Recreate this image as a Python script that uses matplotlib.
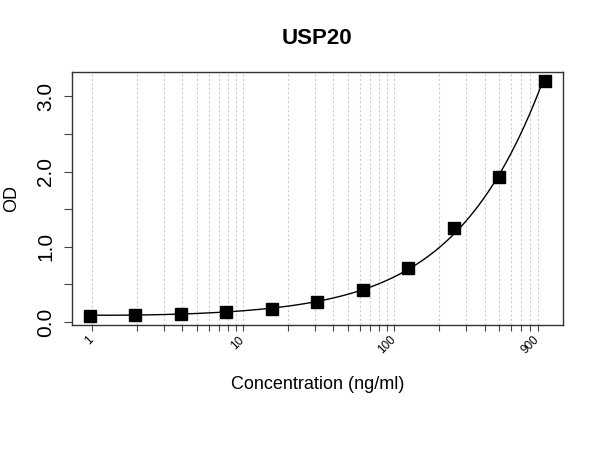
import numpy as np
from matplotlib import pyplot as plt
from matplotlib.ticker import FixedLocator, NullLocator
from matplotlib.transforms import ScaledTranslation

conc = [1000, 500, 250, 125, 62.5, 31.25, 15.63, 7.81, 3.91, 1.95, 0.98]
od = [3.20, 1.93, 1.25, 0.715, 0.42, 0.265, 0.17, 0.135, 0.11, 0.097, 0.085]

grid_x = [1, 2, 3, 4, 5, 6, 7, 8, 9,
          10, 20, 30, 40, 50, 60, 70, 80, 90,
          100, 200, 300, 400, 500, 600, 700, 800, 900]
x_labels = {1: '1', 10: '10', 100: '100', 900: '900'}
y_ticks = [0.0, 0.5, 1.0, 1.5, 2.0, 2.5, 3.0]
y_labels = ['0.0', '', '1.0', '', '2.0', '', '3.0']


def main():
    plt.rcParams['font.family'] = ['Liberation Sans', 'DejaVu Sans']
    fig = plt.figure(figsize=(6, 4.5), dpi=100)
    ax = fig.add_axes([0.12, 0.278, 0.818, 0.562])

    # smooth fitted curve (cubic in log-log space)
    lx = np.log10(conc)
    ly = np.log10(od)
    coef = np.polyfit(lx, ly, 3)
    xs = np.linspace(lx.min(), lx.max(), 300)
    ax.plot(10 ** xs, 10 ** np.polyval(coef, xs), color='black', linewidth=1)

    ax.plot(conc, od, 's', color='black', markersize=8.7, zorder=3)

    ax.set_xscale('log')
    lo, hi = np.log10(min(conc)), np.log10(max(conc))
    pad = 0.04 * (hi - lo)
    ax.set_xlim(10 ** (lo - pad), 10 ** (hi + pad))
    r = max(od) - min(od)
    ax.set_ylim(min(od) - 0.04 * r, max(od) + 0.04 * r)

    for g in grid_x:
        ax.axvline(g, color='#cccccc', linestyle=(0, (2, 2)), linewidth=0.8, zorder=0)

    ax.xaxis.set_major_locator(FixedLocator(grid_x))
    ax.xaxis.set_minor_locator(NullLocator())
    ax.set_xticklabels([x_labels.get(g, '') for g in grid_x], rotation=45,
                       fontsize=8.5, ha='right', va='center', rotation_mode='anchor')
    shift = ScaledTranslation(2 / 100, 0, fig.dpi_scale_trans)
    for lab in ax.get_xticklabels():
        lab.set_transform(lab.get_transform() + shift)
    ax.tick_params(axis='x', length=4.5, color='#444444', pad=5)

    ax.set_yticks(y_ticks)
    ax.set_yticklabels(y_labels, rotation=90, va='center', fontsize=15)
    ax.tick_params(axis='y', length=6, color='#444444', pad=6)

    for s in ax.spines.values():
        s.set_color('#333333')
        s.set_linewidth(1)

    ax.set_xlabel('Concentration (ng/ml)', fontsize=13, labelpad=14)
    ax.set_ylabel('OD', fontsize=13, labelpad=12)
    ax.set_title('USP20', fontsize=16, fontweight='bold', pad=20)

    fig.savefig('out.png')


if __name__ == "__main__":
    main()
